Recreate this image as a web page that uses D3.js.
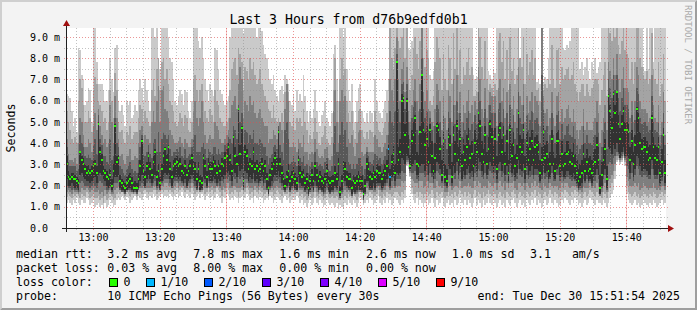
<!DOCTYPE html>
<html lang="en">
<head>
<meta charset="UTF-8">
<title>Last 3 Hours from d76b9edfd0b1</title>
<script src="https://cdn.jsdelivr.net/npm/d3@7"></script>
<style>
  body { margin: 0; background: #f3f3f3; overflow: hidden; }
  svg text { font-family: "DejaVu Sans Mono", monospace; fill: #000; }
</style>
</head>
<body>
<script>
// 10 ICMP pings every 30 s over 3 hours -> 360 steps, values in ms
var med = [
 3.0,2.4,2.3,2.4,2.3,2.3,2.2,2.1,3.6,3.2,3.0,2.8,2.6,2.7,2.6,2.7,2.9,3.0,2.6,4.9,
 3.6,3.2,2.7,2.6,2.4,2.3,2.5,2.0,2.7,4.8,3.1,3.3,2.2,2.1,2.0,1.9,2.1,2.2,2.3,2.1,
 1.9,1.9,1.9,2.3,2.9,4.1,2.7,2.4,2.9,3.4,2.8,2.5,3.1,3.6,2.4,2.7,2.1,2.8,3.4,3.7,
 3.2,3.8,2.8,2.4,2.9,3.0,3.1,2.9,3.0,2.7,2.6,2.9,2.5,2.7,2.9,3.3,2.9,2.8,2.3,2.8,
 2.2,2.1,3.3,2.9,2.4,3.0,2.8,2.8,3.1,2.9,2.6,2.9,2.7,3.0,2.9,3.3,3.4,3.8,3.2,2.7,
 4.3,3.4,3.0,5.6,3.5,4.7,2.2,3.6,3.4,2.8,3.0,2.9,3.6,2.8,2.9,2.7,2.8,3.0,2.7,2.9,
 2.3,1.9,2.5,2.8,3.0,3.3,3.0,4.5,3.0,2.6,2.3,2.0,2.4,2.7,2.2,2.4,2.6,2.3,2.1,3.2,
 2.6,2.4,2.5,2.1,2.3,1.9,2.2,2.5,2.2,2.9,2.5,2.2,2.4,2.2,2.1,2.3,2.7,2.2,2.1,2.2,
 2.2,2.6,2.3,3.0,1.7,2.2,3.0,2.8,2.4,2.3,2.3,1.9,2.2,2.1,2.2,2.4,2.2,2.2,1.6,2.0,
 3.0,2.8,2.4,2.3,2.6,2.4,2.7,2.6,2.6,2.3,2.5,2.7,2.9,3.7,2.4,3.1,3.5,2.6,7.8,3.2,
 3.6,6.0,6.1,4.4,6.0,3.8,2.9,4.1,4.4,5.2,3.0,2.9,4.5,7.2,4.6,3.9,4.2,3.1,4.6,3.4,
 2.7,3.3,4.8,4.6,3.7,2.5,4.1,2.4,2.2,4.3,3.9,2.4,4.4,3.5,4.8,3.2,4.2,2.9,3.6,3.2,
 3.8,4.2,3.3,3.5,2.9,4.0,3.6,5.4,4.8,3.5,3.1,4.4,3.0,3.7,4.9,4.3,3.3,4.2,2.8,4.4,
 4.7,3.6,4.4,3.0,4.1,2.6,4.6,3.4,3.9,2.9,3.3,5.4,3.8,3.6,4.6,2.8,4.0,3.2,3.7,4.1,
 3.2,3.8,3.9,3.6,2.6,3.2,4.5,3.3,3.5,2.7,3.0,4.2,3.0,2.7,4.1,4.1,2.9,3.5,2.9,3.0,
 3.5,3.6,3.1,3.0,3.4,2.9,2.6,2.2,2.4,2.6,3.5,2.7,3.1,2.7,2.8,2.6,3.0,3.1,3.9,3.2,
 1.9,2.5,3.2,3.7,2.3,6.2,5.5,4.7,6.3,5.4,6.4,4.9,4.2,4.9,5.5,4.6,4.6,4.5,3.2,4.1,
 3.0,3.9,5.6,5.2,4.0,3.7,3.8,3.8,3.6,3.2,3.3,5.2,3.8,3.3,3.2,3.8,2.6,3.1,4.4,2.6
];
var p1 = [
 1.2,1.3,1.2,1.1,1.3,1.2,1.4,1.2,1.1,1.3,1.2,1.2,1.4,1.3,1.1,1.2,1.3,1.0,1.1,1.2,
 1.0,1.1,0.9,1.2,1.0,1.1,1.3,1.2,1.0,1.1,1.3,1.4,1.3,1.5,1.4,1.3,1.5,1.4,1.2,1.3,
 1.4,1.5,1.3,1.5,1.4,1.3,1.5,1.6,1.4,1.3,1.5,1.4,1.6,1.5,1.3,1.4,1.5,1.6,1.4,1.5,
 1.5,1.4,1.6,1.5,1.3,1.5,1.6,1.4,1.5,1.7,1.5,1.4,1.6,1.5,1.4,1.6,1.5,1.3,1.5,1.6,
 1.4,1.6,1.5,1.3,1.5,1.6,1.4,1.5,1.3,1.4,1.6,1.5,1.4,1.2,1.5,1.4,1.6,1.5,1.3,1.4,
 1.3,1.5,1.4,1.2,1.4,1.5,1.3,1.4,1.6,1.5,1.3,1.4,1.2,1.5,1.4,1.3,1.5,1.4,1.2,1.3,
 1.4,1.3,1.5,1.4,1.2,1.3,1.5,1.4,1.3,1.2,1.4,1.5,1.3,1.4,1.2,1.3,1.4,1.3,1.5,1.4,
 1.2,1.3,1.1,1.2,1.0,1.2,1.3,1.1,1.2,1.4,1.2,1.1,1.3,1.2,1.0,1.1,1.3,1.2,1.1,1.2,
 1.1,1.0,1.2,0.9,1.1,1.0,0.9,1.2,1.1,1.3,1.2,1.1,1.3,1.2,1.0,1.2,1.4,1.3,1.1,1.2,
 1.3,1.2,1.4,1.3,1.1,1.2,1.3,1.5,1.2,1.1,1.3,1.2,1.4,1.2,1.3,1.1,1.2,1.4,1.3,1.2,
 1.1,1.3,1.2,1.4,2.9,2.8,2.4,1.6,1.3,1.2,1.4,1.1,1.3,1.2,1.0,1.2,1.3,1.1,1.2,1.4,
 1.2,1.0,1.3,1.1,1.2,1.4,1.1,1.0,1.2,1.3,1.1,1.2,1.0,1.3,1.1,1.2,1.4,1.2,1.1,1.3,
 1.1,1.3,1.2,1.0,1.2,1.4,1.1,1.3,1.2,1.0,1.3,1.1,1.2,1.4,1.2,1.1,1.3,1.2,1.0,1.2,
 1.3,1.1,1.2,1.0,1.3,1.2,1.1,1.3,1.4,1.2,1.0,1.2,1.3,1.1,1.2,1.0,1.3,1.2,1.1,1.3,
 1.2,1.4,1.1,1.3,1.2,1.0,1.2,1.3,1.1,1.2,1.4,1.2,1.1,1.3,1.2,1.0,1.1,1.3,1.2,1.4,
 1.3,1.2,1.1,1.3,1.2,1.4,1.3,1.1,1.2,1.0,1.2,1.3,1.1,1.2,1.4,1.3,1.2,1.1,1.3,1.2,
 1.2,1.1,1.3,1.2,1.0,1.2,1.4,1.6,1.8,2.3,3.1,3.2,3.0,3.1,3.3,2.9,1.6,1.3,1.2,1.1,
 1.2,1.3,1.1,1.2,1.0,1.1,1.3,1.2,1.1,1.0,1.2,1.1,1.3,1.2,1.0,1.1,1.2,1.3,1.1,1.2
];
var p2 = [
 1.5,1.6,1.5,1.4,1.6,1.5,1.6,1.5,1.4,1.6,1.5,1.5,1.7,1.6,1.4,1.5,1.6,1.4,1.4,1.5,
 1.3,1.4,1.2,1.5,1.3,1.4,1.6,1.5,1.3,1.4,1.6,1.7,1.6,1.7,1.6,1.5,1.7,1.6,1.5,1.6,
 1.6,1.7,1.5,1.7,1.7,1.6,1.8,1.8,1.7,1.6,1.7,1.7,1.8,1.8,1.6,1.7,1.7,1.8,1.7,1.8,
 1.8,1.7,1.8,1.7,1.6,1.8,1.9,1.7,1.8,1.9,1.8,1.7,1.8,1.8,1.7,1.9,1.8,1.6,1.7,1.8,
 1.7,1.8,1.8,1.6,1.7,1.9,1.7,1.8,1.6,1.7,1.9,1.8,1.7,1.5,1.8,1.7,1.9,1.8,1.6,1.7,
 1.6,1.8,1.7,1.5,1.7,1.8,1.6,1.7,1.9,1.8,1.6,1.7,1.5,1.8,1.7,1.6,1.8,1.7,1.5,1.6,
 1.7,1.5,1.7,1.7,1.5,1.6,1.8,1.7,1.6,1.5,1.7,1.7,1.6,1.7,1.5,1.6,1.7,1.6,1.7,1.7,
 1.5,1.6,1.4,1.5,1.3,1.4,1.6,1.4,1.5,1.7,1.5,1.4,1.6,1.5,1.3,1.4,1.6,1.5,1.4,1.5,
 1.4,1.4,1.5,1.3,1.3,1.4,1.3,1.5,1.4,1.6,1.5,1.4,1.6,1.5,1.3,1.5,1.7,1.6,1.2,1.5,
 1.6,1.5,1.7,1.6,1.4,1.5,1.6,1.8,1.5,1.4,1.6,1.5,1.7,1.6,1.6,1.5,1.6,1.7,1.7,1.6,
 1.5,1.7,1.6,1.8,3.0,3.0,2.5,1.9,1.6,1.6,1.7,1.5,1.7,1.6,1.4,1.6,1.7,1.5,1.6,1.8,
 1.6,1.4,1.7,1.5,1.6,1.7,1.5,1.4,1.5,1.7,1.5,1.6,1.4,1.7,1.5,1.6,1.8,1.6,1.5,1.7,
 1.5,1.7,1.6,1.4,1.6,1.8,1.5,1.7,1.6,1.4,1.7,1.5,1.6,1.8,1.6,1.5,1.7,1.6,1.4,1.6,
 1.7,1.5,1.6,1.4,1.7,1.6,1.5,1.7,1.8,1.6,1.4,1.6,1.7,1.5,1.6,1.4,1.7,1.6,1.5,1.7,
 1.6,1.8,1.5,1.7,1.6,1.4,1.6,1.7,1.5,1.6,1.8,1.6,1.5,1.7,1.6,1.4,1.5,1.7,1.6,1.8,
 1.7,1.6,1.5,1.7,1.6,1.8,1.7,1.5,1.6,1.4,1.6,1.7,1.5,1.6,1.8,1.7,1.6,1.5,1.7,1.6,
 1.5,1.4,1.7,1.6,1.4,1.7,1.9,2.1,2.3,2.7,3.2,3.3,3.1,3.2,3.4,3.1,2.0,1.7,1.6,1.5,
 1.6,1.7,1.5,1.6,1.4,1.5,1.7,1.6,1.5,1.4,1.6,1.5,1.7,1.6,1.4,1.5,1.6,1.7,1.5,1.6
];
var p3 = [
 1.7,1.8,1.7,1.6,1.8,1.7,1.7,1.6,1.7,1.9,1.8,1.8,1.9,1.8,1.7,1.8,1.9,1.7,1.7,1.8,
 1.6,1.7,1.5,1.8,1.6,1.7,1.8,1.6,1.6,1.8,1.9,2.0,1.8,1.7,1.7,1.6,1.8,1.8,1.7,1.7,
 1.7,1.8,1.6,1.8,1.9,1.9,2.0,1.9,1.9,1.9,1.9,1.9,2.0,2.0,1.8,1.9,1.8,2.0,2.0,2.1,
 2.1,2.0,2.0,1.9,1.9,2.0,2.1,1.9,2.0,2.0,2.0,1.9,1.9,2.0,1.9,2.1,2.0,1.9,1.8,2.0,
 1.8,1.9,2.0,1.9,1.9,2.1,1.9,2.0,1.9,1.9,2.0,2.0,1.9,1.8,2.0,1.9,2.1,2.1,1.9,1.9,
 2.0,2.0,1.9,1.9,1.9,2.0,1.8,1.9,2.1,2.0,1.9,1.9,1.8,2.0,1.9,1.8,2.0,1.9,1.8,1.8,
 1.8,1.6,1.8,1.9,1.8,1.9,2.0,1.9,1.9,1.8,1.8,1.8,1.8,1.9,1.7,1.8,1.9,1.8,1.8,1.9,
 1.8,1.8,1.7,1.7,1.6,1.5,1.7,1.7,1.7,1.9,1.7,1.6,1.8,1.7,1.5,1.6,1.8,1.7,1.6,1.7,
 1.6,1.7,1.7,1.6,1.4,1.6,1.7,1.8,1.7,1.8,1.7,1.5,1.7,1.6,1.6,1.7,1.8,1.7,1.3,1.6,
 1.9,1.8,1.8,1.8,1.7,1.7,1.9,2.0,1.8,1.7,1.8,1.8,2.0,2.0,1.8,1.9,2.0,1.9,2.0,2.0,
 2.0,2.2,2.1,2.2,3.1,3.1,2.6,2.3,2.2,2.1,2.1,1.9,2.2,2.2,1.9,2.0,2.2,1.9,2.1,2.1,
 1.9,1.9,2.2,2.0,2.0,1.9,2.0,1.7,1.7,2.1,2.0,1.8,1.9,2.0,2.0,1.9,2.2,1.9,2.0,2.0,
 2.0,2.1,2.0,1.9,1.9,2.2,2.0,2.2,2.1,1.9,2.0,2.0,1.9,2.2,2.1,2.0,2.0,2.1,1.8,2.1,
 2.2,2.0,2.1,1.8,2.1,1.9,2.1,2.1,2.2,1.9,1.8,2.1,2.1,2.0,2.1,1.8,2.1,2.0,1.9,2.1,
 2.0,2.2,2.0,2.1,1.9,1.8,2.1,2.0,1.9,1.9,2.1,2.0,1.9,2.0,2.0,1.8,1.9,2.1,1.9,2.1,
 2.1,2.0,1.9,2.0,2.0,2.0,1.9,1.7,1.8,1.7,2.0,1.9,1.9,1.9,2.1,1.9,2.0,1.9,2.1,2.0,
 1.5,1.7,2.0,2.1,1.7,2.2,2.3,2.5,2.7,3.0,3.4,3.4,3.2,3.3,3.5,3.2,2.4,2.2,2.0,2.0,
 2.0,2.1,2.0,2.1,1.8,1.9,2.1,2.0,1.9,1.8,1.9,1.9,2.1,1.9,1.8,1.9,1.8,2.0,2.0,1.8
];
var p4 = [
 2.0,1.9,1.9,1.8,1.9,1.8,1.8,1.7,2.1,2.2,2.1,2.0,2.0,2.0,1.9,2.0,2.1,2.0,1.9,2.1,
 2.2,2.1,2.0,2.0,1.8,1.8,1.9,1.7,1.9,2.1,2.1,2.2,1.8,1.7,1.7,1.6,1.7,1.8,1.8,1.7,
 1.6,1.6,1.6,1.8,2.0,2.1,2.0,1.9,2.1,2.2,2.1,2.0,2.1,2.2,1.9,2.0,1.8,2.1,2.2,2.3,
 2.3,2.3,2.1,1.9,2.1,2.2,2.2,2.1,2.2,2.1,2.0,2.1,1.9,2.1,2.1,2.3,2.1,2.0,1.8,2.1,
 1.7,1.7,2.2,2.1,1.9,2.2,2.1,2.1,2.2,2.1,2.0,2.1,2.0,2.2,2.1,2.3,2.3,2.4,2.2,2.0,
 2.4,2.3,2.1,2.4,2.3,2.4,1.8,2.3,2.3,2.1,2.1,2.1,2.3,2.1,2.1,2.0,2.1,2.2,2.0,2.1,
 1.8,1.5,1.9,2.0,2.1,2.2,2.2,2.3,2.1,2.0,1.8,1.6,1.9,2.0,1.7,1.9,2.0,1.8,1.7,2.1,
 1.9,1.9,1.9,1.7,1.8,1.5,1.7,1.9,1.7,2.0,1.9,1.7,1.8,1.7,1.6,1.7,1.9,1.7,1.6,1.7,
 1.7,1.9,1.8,2.0,1.4,1.7,2.1,2.0,1.9,1.8,1.8,1.5,1.7,1.6,1.7,1.8,1.7,1.7,1.3,1.6,
 2.1,2.0,1.8,1.8,2.0,1.8,2.0,2.0,2.0,1.8,1.9,2.0,2.1,2.3,1.9,2.2,2.3,2.0,2.3,2.3,
 2.3,2.7,2.6,2.6,3.2,3.2,2.7,2.6,2.6,2.7,2.3,2.2,2.6,2.6,2.6,2.4,2.5,2.2,2.6,2.4,
 2.1,2.3,2.7,2.6,2.5,2.1,2.5,2.0,1.9,2.5,2.5,2.0,2.5,2.3,2.7,2.3,2.6,2.2,2.4,2.3,
 2.5,2.6,2.3,2.4,2.2,2.6,2.4,2.8,2.7,2.4,2.3,2.6,2.3,2.5,2.7,2.6,2.3,2.6,2.1,2.6,
 2.7,2.4,2.6,2.2,2.5,2.1,2.6,2.4,2.5,2.2,2.3,2.8,2.5,2.4,2.6,2.1,2.5,2.3,2.4,2.5,
 2.3,2.5,2.5,2.4,2.1,2.3,2.6,2.3,2.4,2.1,2.3,2.6,2.2,2.2,2.5,2.5,2.2,2.4,2.2,2.3,
 2.4,2.4,2.3,2.2,2.3,2.2,2.0,1.8,1.9,1.9,2.3,2.1,2.3,2.1,2.2,2.0,2.2,2.2,2.5,2.3,
 1.6,1.9,2.3,2.5,1.8,3.0,3.1,3.0,3.3,3.4,3.6,3.5,3.3,3.4,3.6,3.3,2.9,2.8,2.3,2.6,
 2.2,2.5,2.9,2.8,2.5,2.4,2.5,2.5,2.4,2.3,2.3,2.8,2.5,2.3,2.3,2.5,2.0,2.2,2.6,2.0
];
var p5 = [
 2.3,2.0,2.0,2.1,2.0,1.9,1.9,1.8,2.5,2.6,2.4,2.3,2.2,2.2,2.1,2.2,2.3,2.4,2.1,2.5,
 2.6,2.5,2.3,2.2,2.0,1.9,2.0,1.8,2.1,2.4,2.4,2.5,1.9,1.8,1.8,1.7,1.8,1.9,1.9,1.8,
 1.7,1.7,1.7,1.9,2.2,2.5,2.2,2.0,2.3,2.5,2.3,2.1,2.3,2.5,2.0,2.2,1.9,2.2,2.4,2.6,
 2.5,2.6,2.3,2.0,2.3,2.4,2.4,2.3,2.4,2.2,2.1,2.3,2.0,2.2,2.3,2.5,2.3,2.2,1.9,2.2,
 1.8,1.8,2.4,2.3,2.0,2.4,2.2,2.2,2.4,2.3,2.1,2.3,2.2,2.4,2.3,2.5,2.6,2.7,2.5,2.2,
 2.8,2.6,2.4,2.9,2.7,2.8,1.9,2.7,2.6,2.2,2.4,2.3,2.6,2.2,2.3,2.1,2.2,2.4,2.1,2.3,
 1.9,1.6,2.0,2.2,2.4,2.5,2.4,2.7,2.4,2.1,1.9,1.7,2.0,2.1,1.8,2.0,2.1,1.9,1.8,2.4,
 2.1,2.0,2.0,1.8,1.9,1.6,1.8,2.0,1.8,2.2,2.0,1.8,1.9,1.8,1.7,1.9,2.1,1.8,1.7,1.8,
 1.8,2.0,1.9,2.2,1.5,1.8,2.3,2.2,2.0,1.9,1.9,1.6,1.8,1.7,1.8,2.0,1.8,1.8,1.4,1.7,
 2.2,2.2,1.9,1.9,2.1,1.9,2.1,2.1,2.1,1.9,2.0,2.1,2.3,2.6,2.0,2.4,2.5,2.2,2.6,2.5,
 2.6,3.3,3.2,3.0,3.4,3.3,2.8,2.9,3.0,3.2,2.5,2.4,2.9,3.0,3.0,2.7,2.9,2.5,3.0,2.6,
 2.3,2.6,3.1,3.0,2.8,2.2,2.9,2.1,2.0,2.9,2.8,2.1,2.9,2.6,3.1,2.5,2.9,2.3,2.7,2.5,
 2.8,2.9,2.6,2.7,2.4,2.9,2.7,3.3,3.1,2.7,2.5,3.0,2.5,2.8,3.1,2.9,2.6,2.9,2.3,3.0,
 3.1,2.7,3.0,2.5,2.9,2.2,3.0,2.6,2.8,2.4,2.6,3.2,2.8,2.7,3.0,2.3,2.9,2.5,2.7,2.9,
 2.5,2.8,2.8,2.7,2.2,2.5,2.9,2.6,2.7,2.3,2.4,2.9,2.4,2.3,2.8,2.9,2.4,2.7,2.4,2.4,
 2.7,2.7,2.5,2.4,2.6,2.3,2.1,1.9,2.0,2.1,2.6,2.2,2.5,2.2,2.3,2.1,2.4,2.5,2.8,2.5,
 1.6,2.0,2.5,2.8,1.9,3.8,3.7,3.5,3.9,3.7,4.0,3.6,3.3,3.6,3.8,3.4,3.4,3.3,2.6,3.1,
 2.4,2.8,3.4,3.3,2.9,2.7,2.8,2.8,2.7,2.5,2.5,3.2,2.8,2.5,2.5,2.8,2.1,2.4,3.0,2.1
];
var p6 = [
 3.4,2.7,2.5,2.6,2.6,2.5,2.4,2.3,3.6,3.4,3.3,3.0,2.9,3.0,2.8,2.9,3.2,3.2,2.9,5.0,
 3.8,3.5,2.9,2.8,2.7,2.5,2.8,2.3,3.0,4.9,3.4,3.5,2.5,2.3,2.2,2.1,2.4,2.5,2.6,2.4,
 2.1,2.2,2.1,2.6,3.2,4.2,3.0,2.7,3.1,3.6,3.1,2.8,3.4,3.7,2.7,3.0,2.4,3.0,3.6,3.8,
 3.5,3.9,3.1,2.7,3.2,3.3,3.4,3.2,3.3,3.0,2.9,3.2,2.8,3.0,3.2,3.5,3.2,3.1,2.6,3.1,
 2.5,2.4,3.5,3.2,2.7,3.3,3.1,3.1,3.4,3.2,2.9,3.2,3.0,3.3,3.2,3.6,3.7,4.0,3.5,3.0,
 4.4,3.8,3.4,5.6,3.9,4.8,2.6,3.9,3.7,3.1,3.3,3.2,3.8,3.1,3.2,3.0,3.1,3.3,3.0,3.2,
 2.6,2.2,2.8,3.1,3.3,3.6,3.3,4.6,3.3,2.9,2.6,2.3,2.7,3.0,2.5,2.7,2.9,2.6,2.4,3.4,
 2.9,2.7,2.8,2.4,2.6,2.2,2.5,2.8,2.5,3.1,2.8,2.5,2.7,2.5,2.4,2.6,3.0,2.5,2.4,2.5,
 2.5,2.9,2.6,3.3,2.0,2.5,3.2,3.1,2.7,2.6,2.6,2.2,2.5,2.4,2.5,2.7,2.5,2.5,1.9,2.3,
 3.3,3.1,2.7,2.6,2.9,2.7,3.0,2.9,2.9,2.6,2.8,3.0,3.2,3.9,2.8,3.5,3.9,3.0,7.8,3.8,
 4.2,6.3,6.2,4.9,6.1,4.4,3.5,4.6,5.0,5.3,3.6,3.5,4.8,7.2,5.0,4.5,4.8,3.8,4.9,4.1,
 3.3,4.0,5.0,4.9,4.3,3.2,4.5,3.0,2.8,4.7,4.4,3.1,4.8,4.1,5.1,3.8,4.6,3.5,4.2,3.9,
 4.4,4.7,3.9,4.1,3.5,4.6,4.2,5.5,5.1,4.1,3.7,4.8,3.6,4.3,5.1,4.7,3.9,4.7,3.4,4.8,
 5.0,4.2,4.8,3.6,4.6,3.2,4.9,4.0,4.5,3.5,3.9,5.5,4.4,4.2,4.9,3.4,4.5,3.8,4.3,4.6,
 3.8,4.3,4.4,4.1,3.2,3.8,4.8,3.9,4.1,3.3,3.6,4.6,3.6,3.3,4.5,4.6,3.5,4.1,3.5,3.6,
 4.1,4.1,3.7,3.6,4.0,3.5,3.2,2.8,3.0,3.2,4.0,3.3,3.7,3.3,3.4,3.2,3.6,3.7,4.3,3.8,
 2.5,3.1,3.8,4.2,2.9,6.3,5.8,5.2,6.4,5.8,6.4,5.3,4.7,5.3,5.7,5.0,5.0,4.9,3.8,4.6,
 3.6,4.4,5.7,5.4,4.5,4.2,4.3,4.3,4.1,3.8,3.9,5.3,4.3,3.9,3.8,4.3,3.2,3.7,4.7,3.2
];
var p7 = [
 3.8,3.1,2.9,2.9,2.9,2.9,2.7,2.8,4.4,4.0,3.8,3.4,3.3,3.5,3.3,3.2,3.9,4.2,3.5,5.3,
 4.2,3.9,3.4,3.4,3.1,3.0,4.2,3.2,3.4,5.2,4.0,3.8,2.9,2.8,2.6,2.5,2.8,2.9,3.1,2.8,
 2.6,2.7,2.6,3.2,3.8,4.4,3.5,3.4,3.6,3.9,3.5,3.3,4.0,4.2,3.6,4.5,3.6,4.2,4.5,4.4,
 4.2,4.4,3.7,3.4,3.6,3.6,3.7,3.6,3.8,3.4,3.3,3.7,3.3,3.4,3.5,3.8,4.2,4.4,3.6,3.6,
 3.6,3.8,4.0,3.7,3.3,3.7,3.6,3.5,3.8,3.8,3.5,3.7,3.5,3.6,3.6,3.9,4.0,4.3,4.2,4.0,
 4.8,4.6,4.2,5.8,5.0,5.4,3.8,4.6,4.5,4.0,4.4,4.2,4.6,4.0,4.0,3.9,4.2,4.0,3.8,3.8,
 3.4,3.0,3.3,3.5,3.8,3.9,3.7,4.8,3.9,3.6,3.2,4.6,5.0,4.2,3.0,3.1,3.4,3.1,2.9,3.7,
 3.3,3.1,3.4,2.9,3.0,2.6,2.9,3.1,2.9,3.6,3.1,2.9,3.0,2.9,2.8,3.1,3.3,2.8,2.7,2.9,
 4.0,4.8,3.6,3.6,4.4,5.0,4.4,4.6,3.8,3.1,3.0,2.8,3.0,2.8,3.0,3.3,3.3,2.9,2.5,2.8,
 3.6,3.4,3.1,3.0,3.2,3.5,3.4,3.2,3.3,3.0,3.2,3.4,3.7,4.4,5.5,5.0,4.8,5.5,8.2,5.6,
 5.0,6.8,6.9,5.6,6.8,5.0,4.2,5.2,5.7,6.0,4.6,4.4,5.6,8.0,5.6,5.2,5.5,4.6,5.2,4.6,
 4.0,4.8,5.8,5.6,5.0,3.9,5.3,4.2,3.7,5.5,5.2,4.0,5.8,4.9,6.0,4.6,5.4,4.3,5.0,4.6,
 5.2,5.5,4.6,4.9,4.2,5.3,4.9,6.4,6.0,4.8,4.4,5.6,4.4,5.0,5.8,5.4,4.6,5.4,4.1,5.6,
 5.9,5.0,5.6,4.4,5.4,4.0,5.8,4.7,5.3,4.2,4.7,6.4,5.2,4.9,5.8,4.2,5.3,4.6,5.1,5.5,
 4.6,5.1,5.2,4.9,4.0,9.6,5.6,4.6,4.8,4.0,4.4,5.4,4.4,4.0,5.3,5.5,4.2,4.9,4.2,4.4,
 4.8,4.9,4.4,4.3,4.8,4.2,3.9,3.5,3.7,3.9,4.8,4.0,4.4,4.0,4.0,3.9,4.3,4.4,5.0,4.5,
 3.2,3.8,4.5,5.0,3.7,7.0,6.6,6.1,7.2,6.5,7.2,6.1,5.5,6.1,6.6,5.8,5.8,5.6,4.5,5.3,
 4.3,5.1,6.6,6.3,5.2,4.9,5.0,5.0,4.8,4.5,4.6,6.2,5.0,4.6,4.5,5.0,3.9,4.4,5.4,3.9
];
var p8 = [
 4.2,3.5,3.2,3.2,3.1,3.3,3.0,4.0,5.2,5.0,4.4,3.8,3.8,4.2,4.0,3.6,4.8,5.4,4.6,5.6,
 4.8,4.4,4.0,4.2,3.8,4.0,5.8,5.0,4.0,6.2,5.2,4.2,3.4,3.5,3.2,3.0,3.4,3.4,3.7,3.2,
 3.2,3.4,3.3,4.0,4.6,4.8,4.0,4.4,4.2,4.2,4.0,5.0,5.5,5.0,6.0,6.7,5.0,6.5,6.7,5.6,
 5.5,5.2,4.6,4.4,4.2,4.0,4.0,4.1,4.3,4.0,3.8,4.2,4.0,3.8,3.8,4.2,5.5,6.0,5.2,4.8,
 5.2,6.0,5.0,4.4,4.0,4.2,4.4,4.2,4.2,5.0,4.8,4.6,4.2,4.0,4.0,4.2,4.4,4.6,5.2,5.8,
 6.0,6.2,5.6,6.8,7.6,7.0,5.2,6.0,5.8,5.5,6.2,5.8,6.0,5.4,5.2,5.4,5.6,5.2,5.0,4.8,
 4.8,4.0,4.2,4.2,4.6,4.4,4.2,5.2,5.0,4.6,4.0,6.4,6.8,6.0,3.8,3.8,4.0,3.8,3.6,4.2,
 4.0,3.8,4.4,3.6,3.6,3.2,3.5,3.6,3.5,4.2,3.7,3.4,3.3,3.4,3.3,3.7,3.8,3.3,3.2,3.4,
 5.5,6.5,5.0,4.0,6.0,6.5,6.0,6.2,5.0,4.2,4.0,4.4,3.8,3.4,4.0,4.5,4.6,3.6,3.4,3.5,
 3.8,3.6,3.6,3.6,3.6,4.4,4.2,3.8,3.8,3.6,3.8,4.0,4.4,5.0,7.0,6.5,6.0,7.0,9.0,7.0,
 6.0,7.5,7.8,6.4,7.6,5.5,5.0,5.8,6.5,7.0,6.0,5.5,6.8,9.6,6.4,6.0,6.5,5.6,5.5,5.0,
 4.8,5.6,6.8,6.5,6.0,4.6,6.2,5.2,4.6,6.5,6.2,5.0,7.0,5.8,7.2,5.4,6.4,5.0,5.8,5.4,
 6.0,6.5,5.4,5.8,5.0,6.2,5.6,7.6,7.0,5.6,5.2,6.6,5.2,5.8,6.4,6.2,5.4,6.2,4.8,6.6,
 7.0,6.0,6.6,5.2,6.4,4.8,6.8,5.6,6.2,5.0,5.6,7.6,6.2,5.8,6.8,5.0,6.2,5.4,6.0,6.4,
 5.4,6.2,6.0,5.8,4.8,9.6,6.2,5.4,5.6,4.8,5.2,6.4,5.2,4.8,6.2,6.4,5.0,5.6,5.0,5.2,
 5.6,5.8,5.2,5.0,5.6,5.0,4.6,4.2,4.6,4.8,5.6,4.6,5.0,4.6,4.6,4.6,5.0,5.2,6.0,5.4,
 4.0,4.6,5.2,5.8,4.6,7.8,7.4,7.0,8.0,7.2,8.2,7.0,6.4,7.0,7.6,6.6,6.6,6.4,5.2,6.0,
 5.0,6.0,7.6,7.2,6.0,5.6,5.6,5.6,5.4,5.0,5.2,7.2,5.8,5.2,5.0,5.8,4.4,5.0,6.4,4.4
];
var p9 = [
 5.5,5.0,4.6,4.2,4.0,4.3,4.0,6.0,7.0,6.6,5.8,5.0,5.0,5.5,5.2,4.5,6.5,7.1,6.8,6.0,
 5.8,5.5,5.0,5.2,4.6,5.0,6.5,6.0,5.2,7.3,6.5,5.0,4.5,4.6,4.2,4.0,4.5,4.4,4.8,4.2,
 4.4,4.5,4.5,5.2,5.8,5.6,5.0,5.5,5.2,5.0,4.8,6.5,7.0,6.2,7.5,8.0,6.5,7.8,8.0,7.0,
 7.5,6.8,6.0,5.8,5.5,5.0,4.8,5.0,5.4,5.2,4.8,5.3,5.2,4.6,4.5,5.0,7.0,7.2,6.5,6.0,
 6.5,6.8,6.0,5.5,5.2,5.0,5.6,5.3,5.0,6.5,6.0,5.8,5.2,5.0,4.8,4.8,5.0,5.2,6.5,7.5,
 7.8,8.0,7.2,8.5,8.2,7.8,6.5,7.6,7.4,7.0,8.0,7.5,7.8,7.2,6.8,7.0,7.5,6.8,6.5,6.2,
 6.0,5.6,5.5,5.2,5.8,5.2,5.0,4.8,5.0,5.4,5.0,5.6,6.8,6.4,5.0,4.8,5.2,4.6,5.2,5.0,
 5.2,4.8,5.6,5.0,4.6,4.0,4.4,4.2,4.5,5.2,4.5,4.0,3.9,4.3,4.4,4.8,4.2,4.0,3.9,4.3,
 6.5,8.0,6.0,5.0,7.0,8.0,7.2,7.5,6.0,5.4,5.0,5.5,4.6,4.2,5.0,5.5,5.6,4.6,4.3,4.2,
 4.5,4.2,4.6,4.5,4.3,5.5,5.0,4.6,4.5,4.4,4.7,5.0,5.4,6.0,9.6,8.0,7.5,8.5,9.8,8.8,
 8.5,9.0,9.8,8.0,9.6,7.0,6.5,7.2,8.5,9.0,8.2,7.5,8.8,9.8,8.0,7.6,8.4,8.0,6.0,5.8,
 6.2,7.8,9.0,8.5,8.0,6.5,8.2,7.0,6.5,8.6,8.0,6.8,9.2,7.5,9.6,7.2,8.4,6.8,7.6,7.2,
 7.8,8.5,7.2,7.6,6.2,6.0,6.4,9.6,9.0,7.6,7.0,8.8,7.0,6.5,6.8,6.6,6.2,6.8,6.5,8.8,
 9.2,7.8,8.8,7.0,8.4,6.5,9.0,7.4,8.0,6.8,7.2,9.6,8.0,7.6,9.0,6.8,8.2,7.2,7.8,8.4,
 7.2,8.0,6.5,6.6,6.0,9.8,6.5,6.8,6.6,7.0,6.8,8.6,7.0,6.6,8.4,8.5,6.8,7.6,7.0,7.2,
 7.5,7.6,7.0,7.2,7.8,6.8,6.4,6.0,6.4,6.8,6.8,6.2,6.8,6.4,6.2,6.6,6.8,7.0,7.0,6.8,
 5.8,6.5,7.2,7.8,6.2,9.6,9.2,8.8,9.8,9.0,9.8,8.6,8.2,8.8,9.4,8.4,8.2,8.0,7.0,7.8,
 6.8,7.8,9.6,9.4,8.0,7.6,7.2,7.0,7.4,6.8,7.0,9.2,7.5,7.0,6.8,7.8,6.2,6.8,8.2,6.0
];
var p10 = [
 6.3,6.2,6.1,5.5,4.8,5.2,4.5,8.5,8.4,7.2,7.0,5.8,6.0,6.6,6.5,5.0,9.8,9.6,7.8,6.8,
 6.8,6.8,6.5,6.0,6.0,6.5,8.0,7.0,6.4,8.5,8.6,6.0,5.5,5.8,5.3,4.8,6.0,5.8,6.0,5.2,
 5.3,5.8,5.5,6.5,7.0,6.6,6.0,7.0,6.5,6.0,5.5,9.8,9.7,9.0,9.6,8.0,7.5,9.8,9.6,9.7,
 9.6,9.0,8.0,7.8,7.0,6.0,5.8,6.2,6.5,6.3,5.8,6.5,6.4,5.5,5.2,6.0,9.8,9.6,9.5,8.8,
 8.5,9.0,8.0,7.0,6.5,6.0,6.8,6.5,6.2,8.5,8.4,7.5,6.5,6.3,6.0,5.8,6.0,6.2,9.0,9.6,
 9.8,9.6,9.7,9.4,9.8,9.6,9.2,9.8,9.7,9.6,9.8,9.5,9.7,9.6,9.0,9.8,9.6,9.3,8.6,8.2,
 8.0,7.5,7.0,6.8,7.2,6.5,6.2,6.0,6.5,6.7,6.3,7.2,7.0,6.8,6.0,5.8,6.3,5.5,6.5,6.0,
 6.3,6.0,7.2,6.2,5.5,5.0,5.5,5.2,5.6,6.5,5.5,5.0,4.8,5.3,5.5,6.0,5.2,5.0,4.8,5.4,
 8.2,8.6,7.0,6.0,9.8,9.6,9.0,9.7,7.5,6.5,6.0,6.8,5.5,5.0,6.0,6.6,6.8,5.5,5.2,5.0,
 5.4,5.0,5.5,5.4,5.0,7.0,6.0,5.5,5.4,5.2,5.6,6.0,6.5,7.0,9.8,9.6,9.7,9.8,9.9,9.6,
 9.8,9.7,9.9,9.6,9.8,8.5,8.4,8.8,9.7,9.8,9.6,9.9,9.7,9.8,9.6,9.9,9.7,9.8,7.2,7.0,
 7.4,9.6,9.8,9.7,9.9,9.6,9.8,9.7,9.9,9.6,9.8,9.7,9.9,9.6,9.8,9.7,9.5,9.8,9.7,9.9,
 9.8,9.6,9.7,9.9,7.2,7.0,7.1,9.6,9.8,9.7,9.9,9.6,9.8,7.4,7.2,7.0,7.5,7.3,9.6,9.8,
 9.7,9.9,9.6,9.8,9.7,9.9,9.6,9.8,9.7,9.9,9.6,9.8,8.0,9.9,9.6,9.8,9.7,9.9,9.6,9.8,
 9.8,9.7,6.9,7.0,6.8,7.2,6.9,7.1,7.0,8.0,9.6,9.8,9.7,9.9,9.6,9.8,9.7,9.6,8.5,8.4,
 8.6,8.5,8.8,9.6,9.8,9.7,9.9,9.6,7.5,7.8,7.2,7.6,8.0,7.4,7.0,7.8,7.5,8.0,7.3,7.6,
 7.8,9.6,9.8,9.7,9.9,9.6,9.8,9.7,9.9,9.6,9.8,9.7,9.9,9.6,9.8,9.7,9.9,9.6,9.8,9.7,
 9.6,9.8,9.7,9.9,9.6,9.8,7.6,7.4,9.7,7.5,9.6,9.8,7.8,9.7,9.9,9.6,9.8,9.7,9.9,9.6
];
// steps with packet loss (index into the series) and lost pings out of 10
var lossStep = [193, 194];
var lossCount = [1, 1];

var lossLabels = ["0", "1/10", "2/10", "3/10", "4/10", "5/10", "9/10"];
var lossColors = ["#26ff00", "#00b8ff", "#0059ff", "#5e00ff", "#7e00ff", "#dd00ff", "#ff0000"];
var smokeColors = ["#cacaca", "#a4a4a4", "#7e7e7e", "#585858", "#323232"];
var yTicks = [0, 1, 2, 3, 4, 5, 6, 7, 8, 9];
var rttStats = [["3.2 ms avg", 107.3], ["7.8 ms max", 193.3], ["1.6 ms min", 279.3],
                ["2.6 ms now", 366], ["1.0 ms sd", 451.7], ["3.1   am/s", 530]];
var lossStats = [["0.03 % avg", 107.3], ["8.00 % max", 193.3], ["0.00 % min", 279.3], ["0.00 % now", 366]];

var W = 697, H = 310;
var X0 = 66, X1 = 666, Y0 = 228, Y1 = 28;
var yMax = 9.42;

var end = new Date(2025, 11, 30, 15, 51, 54);
var start = d3.timeHour.offset(end, -3);

var x = d3.scaleTime().domain([start, end]).range([X0, X1]);
var y = d3.scaleLinear().domain([0, yMax]).range([Y0, Y1]);

var pings = [p1, p2, p3, p4, p5, p6, p7, p8, p9, p10];
var steps = med.map(function(m, i) {
  var v = pings.map(function(p) { return p[i]; }).sort(d3.ascending);
  var j = lossStep.indexOf(i);
  var lost = j >= 0 ? lossCount[j] : 0;
  return {
    t0: d3.timeSecond.offset(start, i * 30),
    t1: d3.timeSecond.offset(start, (i + 1) * 30),
    v: v, med: m, loss: lost > 5 ? 6 : lost
  };
});

var svg = d3.select("body").append("svg")
  .attr("width", W).attr("height", H);

// background with rrdtool style shaded border
svg.append("rect").attr("width", W).attr("height", H).attr("fill", "#f3f3f3");
svg.append("path").attr("d", "M0,0H697L695,2H2V308L0,310Z").attr("fill", "#cfcfcf");
svg.append("path").attr("d", "M697,0V310H0L2,308H695V2Z").attr("fill", "#9e9e9e");
svg.append("rect").attr("x", X0).attr("y", Y1).attr("width", X1 - X0).attr("height", Y0 - Y1)
  .attr("fill", "#fff");

// smoke
var smoke = svg.append("g").attr("shape-rendering", "crispEdges");
smokeColors.forEach(function(c, k) {
  smoke.append("g").selectAll("rect")
    .data(steps)
    .enter().append("rect")
    .attr("x", function(d) { return x(d.t0); })
    .attr("width", function(d) { return x(d.t1) - x(d.t0); })
    .attr("y", function(d) { return y(Math.min(d.v[9 - k], yMax)); })
    .attr("height", function(d) { return y(d.v[k]) - y(Math.min(d.v[9 - k], yMax)); })
    .attr("fill", c);
});

// median, coloured by loss
svg.append("g").attr("shape-rendering", "crispEdges").selectAll("rect")
  .data(steps)
  .enter().append("rect")
  .attr("x", function(d) { return x(d.t0); })
  .attr("width", function(d) { return x(d.t1) - x(d.t0); })
  .attr("y", function(d) { return y(d.med) - 1; })
  .attr("height", 2)
  .attr("fill", function(d) { return lossColors[d.loss]; });

// grid (drawn on top like rrdtool)
var grid = svg.append("g").attr("shape-rendering", "crispEdges").attr("fill", "none");
d3.range(1, 19).map(function(d) { return d / 2; }).forEach(function(v) {
  var major = v % 1 === 0;
  grid.append("line")
    .attr("x1", X0 - 2).attr("x2", X1 + 2)
    .attr("y1", Math.round(y(v)) + 0.5).attr("y2", Math.round(y(v)) + 0.5)
    .attr("stroke", major ? "#de5050" : "#8f8f8f")
    .attr("stroke-opacity", major ? 0.6 : 0.55)
    .attr("stroke-dasharray", "1,2");
});
d3.timeMinute.every(5).range(start, end).forEach(function(t) {
  var major = t.getMinutes() % 20 === 0;
  var px = Math.round(x(t)) + 0.5;
  grid.append("line")
    .attr("x1", px).attr("x2", px)
    .attr("y1", Y1).attr("y2", Y0 + 3)
    .attr("stroke", major ? "#de5050" : "#8f8f8f")
    .attr("stroke-opacity", major ? 0.6 : 0.55)
    .attr("stroke-dasharray", "1,2");
  if (major && t.getMinutes() === 40) {
    grid.append("line")
      .attr("x1", px).attr("x2", px)
      .attr("y1", Y1).attr("y2", Y0)
      .attr("stroke", "#de5050")
      .attr("stroke-opacity", 0.3);
  }
});

// axes labels
var yAxis = d3.axisLeft(y).tickValues(yTicks).tickSize(0).tickPadding(6)
  .tickFormat(function(d) { return d === 0 ? "0.0" : d.toFixed(1) + " m"; });
svg.append("g")
  .attr("transform", "translate(" + X0 + ",0)")
  .call(yAxis)
  .call(function(g) { g.select(".domain").remove(); })
  .call(function(g) {
    g.selectAll("text")
      .attr("font-family", "DejaVu Sans Mono").attr("font-size", 10)
      .attr("fill", "#000")
      .attr("x", function(d) { return d === 0 ? -18 : -6; });
  });

var xAxis = d3.axisBottom(x).ticks(d3.timeMinute.every(20))
  .tickFormat(d3.timeFormat("%H:%M")).tickSize(0).tickPadding(6);
svg.append("g")
  .attr("transform", "translate(0," + Y0 + ")")
  .call(xAxis)
  .call(function(g) { g.select(".domain").remove(); })
  .call(function(g) {
    g.selectAll("text")
      .attr("font-family", "DejaVu Sans Mono").attr("font-size", 10)
      .attr("fill", "#000");
  });

// axis lines and arrows
svg.append("line").attr("x1", X0 - 4).attr("x2", X1 + 3).attr("y1", Y0 + 0.5).attr("y2", Y0 + 0.5)
  .attr("stroke", "#202020").attr("shape-rendering", "crispEdges");
svg.append("line").attr("x1", X0 + 0.5).attr("x2", X0 + 0.5).attr("y1", Y0 + 4).attr("y2", Y1 - 3)
  .attr("stroke", "#202020").attr("shape-rendering", "crispEdges");
svg.append("path").attr("d", "M" + (X1 + 2) + "," + (Y0 - 3) + "L" + (X1 + 8) + "," + (Y0 + 0.5) + "L" + (X1 + 2) + "," + (Y0 + 4) + "Z")
  .attr("fill", "#a01010");
svg.append("path").attr("d", "M" + (X0 - 3) + "," + (Y1 - 2) + "L" + (X0 + 0.5) + "," + (Y1 - 8) + "L" + (X0 + 4) + "," + (Y1 - 2) + "Z")
  .attr("fill", "#a01010");

// titles
svg.append("text").attr("x", W / 2).attr("y", 24).attr("text-anchor", "middle")
  .attr("font-size", 13.2).text("Last 3 Hours from d76b9edfd0b1");
svg.append("text").attr("transform", "translate(15,128) rotate(-90)").attr("text-anchor", "middle")
  .attr("font-size", 11.6).text("Seconds");
svg.append("text").attr("transform", "translate(684.5,5) rotate(90)")
  .attr("font-size", 9).style("fill", "#aaaaaa").text("RRDTOOL / TOBI OETIKER");

// legend
function legendText(xp, yp, s, anchor) {
  svg.append("text").attr("x", xp).attr("y", yp)
    .attr("font-size", 11.6).attr("xml:space", "preserve").style("white-space", "pre")
    .attr("text-anchor", anchor || "start").text(s);
}
legendText(16, 258.3, "median rtt:");
rttStats.forEach(function(s) { legendText(s[1], 258.3, s[0]); });
legendText(16, 272.3, "packet loss:");
lossStats.forEach(function(s) { legendText(s[1], 272.3, s[0]); });
legendText(16, 286.3, "loss color:");
var bx = 108.7;
lossLabels.forEach(function(l, i) {
  svg.append("rect").attr("x", Math.round(bx) + 0.5).attr("y", 278.5).attr("width", 8).attr("height", 8)
    .attr("fill", lossColors[i]).attr("stroke", "#000").attr("shape-rendering", "crispEdges");
  legendText(bx + 14.7, 286.3, l);
  bx += 30 + 7 * l.length;
});
legendText(16, 300, "probe:");
legendText(107.3, 300, "10 ICMP Echo Pings (56 Bytes) every 30s");
legendText(680, 300, "end: " + d3.timeFormat("%a %b %d %H:%M:%S %Y")(end), "end");
</script>
</body>
</html>
